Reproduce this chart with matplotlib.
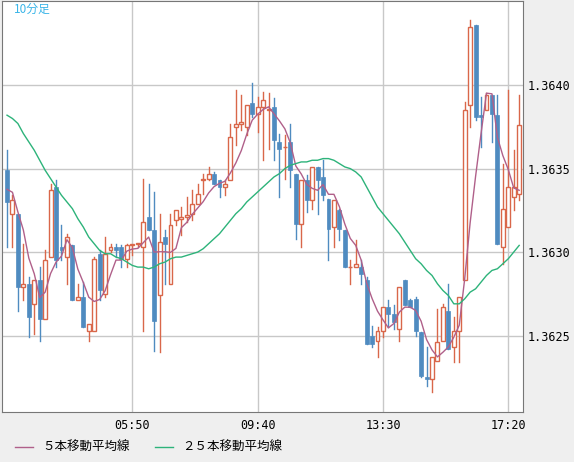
import matplotlib
matplotlib.use("Agg")
import matplotlib.pyplot as plt
from matplotlib.patches import Rectangle
import numpy as np

plt.rcParams['font.family'] = ['Noto Sans CJK JP', 'DejaVu Sans']

opens = [1.36349,1.36323,1.36323,1.36279,1.36281,1.36269,1.36283,1.36260,1.36297,1.36339,
         1.36303,1.36297,1.36304,1.36271,1.36273,1.36253,1.36253,1.36299,1.36275,1.36301,
         1.36303,1.36303,1.36296,1.36304,1.36305,1.36303,1.36321,1.36313,1.36274,1.36309,
         1.36281,1.36319,1.36320,1.36321,1.36323,1.36329,1.36343,1.36344,1.36347,1.36343,
         1.36339,1.36343,1.36375,1.36377,1.36375,1.36389,1.36383,1.36387,1.36385,1.36387,
         1.36366,1.36363,1.36366,1.36347,1.36317,1.36343,1.36331,1.36351,1.36345,1.36332,
         1.36315,1.36325,1.36313,1.36291,1.36291,1.36291,1.36283,1.36250,1.36247,1.36253,
         1.36267,1.36263,1.36254,1.36283,1.36271,1.36272,1.36252,1.36225,1.36224,1.36235,
         1.36247,1.36265,1.36243,1.36253,1.36283,1.36388,1.36436,1.36382,1.36385,1.36394,
         1.36382,1.36303,1.36315,1.36333,1.36335]
closes = [1.36330,1.36331,1.36279,1.36281,1.36261,1.36283,1.36260,1.36295,1.36337,1.36295,
          1.36301,1.36309,1.36271,1.36273,1.36255,1.36257,1.36296,1.36277,1.36299,1.36303,
          1.36301,1.36296,1.36304,1.36305,1.36305,1.36318,1.36313,1.36259,1.36306,1.36305,
          1.36316,1.36325,1.36321,1.36322,1.36329,1.36335,1.36344,1.36347,1.36341,1.36339,
          1.36341,1.36369,1.36377,1.36378,1.36388,1.36383,1.36387,1.36391,1.36386,1.36367,
          1.36362,1.36363,1.36349,1.36317,1.36343,1.36331,1.36351,1.36343,1.36334,1.36314,
          1.36331,1.36314,1.36291,1.36291,1.36293,1.36287,1.36245,1.36245,1.36253,1.36267,
          1.36263,1.36258,1.36279,1.36268,1.36267,1.36253,1.36226,1.36224,1.36237,1.36246,
          1.36267,1.36242,1.36253,1.36273,1.36385,1.36435,1.36381,1.36381,1.36394,1.36383,
          1.36305,1.36326,1.36339,1.36339,1.36376]
highs = [1.36361,1.36334,1.36323,1.36305,1.36285,1.36283,1.36291,1.36301,1.36341,1.36343,
         1.36316,1.36311,1.36304,1.36281,1.36282,1.36257,1.36297,1.36301,1.36309,1.36305,
         1.36305,1.36304,1.36305,1.36305,1.36305,1.36344,1.36341,1.36336,1.36323,1.36313,
         1.36323,1.36325,1.36327,1.36333,1.36337,1.36341,1.36347,1.36351,1.36348,1.36343,
         1.36343,1.36377,1.36397,1.36394,1.36388,1.36401,1.36393,1.36396,1.36395,1.36392,
         1.36371,1.36370,1.36377,1.36347,1.36343,1.36346,1.36351,1.36351,1.36355,1.36332,
         1.36331,1.36326,1.36313,1.36295,1.36307,1.36295,1.36285,1.36256,1.36255,1.36267,
         1.36271,1.36268,1.36279,1.36283,1.36272,1.36273,1.36252,1.36243,1.36237,1.36266,
         1.36269,1.36281,1.36261,1.36273,1.36390,1.36439,1.36436,1.36393,1.36395,1.36394,
         1.36394,1.36353,1.36397,1.36361,1.36394]
lows = [1.36303,1.36303,1.36265,1.36271,1.36249,1.36251,1.36247,1.36260,1.36297,1.36291,
        1.36295,1.36281,1.36271,1.36271,1.36255,1.36247,1.36253,1.36271,1.36273,1.36300,
        1.36297,1.36291,1.36291,1.36298,1.36303,1.36253,1.36313,1.36241,1.36240,1.36281,
        1.36281,1.36316,1.36310,1.36318,1.36319,1.36329,1.36335,1.36343,1.36341,1.36333,
        1.36334,1.36343,1.36364,1.36373,1.36370,1.36381,1.36372,1.36355,1.36362,1.36355,
        1.36333,1.36344,1.36339,1.36308,1.36303,1.36324,1.36326,1.36323,1.36331,1.36295,
        1.36303,1.36307,1.36291,1.36281,1.36291,1.36281,1.36245,1.36243,1.36237,1.36249,
        1.36255,1.36254,1.36247,1.36268,1.36267,1.36250,1.36225,1.36220,1.36216,1.36235,
        1.36247,1.36242,1.36234,1.36234,1.36283,1.36375,1.36379,1.36363,1.36385,1.36366,
        1.36305,1.36293,1.36315,1.36325,1.36331]
prior_closes = [1.36340, 1.36338, 1.36335, 1.36345]
ma25 = [1.36382,1.36380,1.36377,1.36371,1.36366,1.36361,1.36355,1.36349,1.36344,1.36339,
        1.36334,1.36330,1.36326,1.36320,1.36315,1.36309,1.36305,1.36301,1.36299,1.36299,
        1.36297,1.36296,1.36294,1.36292,1.36291,1.36291,1.36290,1.36291,1.36293,1.36294,
        1.36296,1.36297,1.36297,1.36298,1.36299,1.36300,1.36302,1.36305,1.36308,1.36311,
        1.36315,1.36319,1.36323,1.36326,1.36330,1.36333,1.36336,1.36339,1.36342,1.36345,
        1.36347,1.36350,1.36352,1.36353,1.36354,1.36354,1.36355,1.36355,1.36356,1.36356,
        1.36355,1.36353,1.36351,1.36350,1.36348,1.36345,1.36339,1.36333,1.36327,1.36323,
        1.36319,1.36315,1.36311,1.36306,1.36301,1.36296,1.36293,1.36289,1.36286,1.36281,
        1.36277,1.36274,1.36269,1.36269,1.36272,1.36276,1.36278,1.36282,1.36286,1.36289,
        1.36290,1.36293,1.36296,1.36300,1.36304]
tick_labels = ["05:50", "09:40", "13:30", "17:20"]
tick_idx = [23, 46, 69, 92]
price_ticks = [1.3625, 1.3630, 1.3635, 1.3640]

allc = np.array(prior_closes + closes)
ma5 = np.convolve(allc, np.ones(5) / 5, mode='valid')

UP = '#d9674a'
DN = '#4f8bc0'
BG = '#efefef'

fig = plt.figure(figsize=(5.74, 4.62), dpi=100, facecolor=BG)
ax = fig.add_axes([2/574, 1 - 412/462, 521/574, 411/462])
ax.set_facecolor('white')
n = len(closes)
x = np.arange(n)
w = 0.72
for i in range(n):
    o, c, h, l = opens[i], closes[i], highs[i], lows[i]
    if c >= o:
        ax.plot([i, i], [l, o], color=UP, lw=1, zorder=2)
        ax.plot([i, i], [c, h], color=UP, lw=1, zorder=2)
        ax.add_patch(Rectangle((i - w/2, o), w, max(c - o, 0.000002), facecolor='white',
                               edgecolor=UP, lw=1, zorder=3))
    else:
        ax.plot([i, i], [l, h], color=DN, lw=1, zorder=2)
        ax.add_patch(Rectangle((i - w/2, c), w, o - c, facecolor=DN, edgecolor=DN, lw=0.5, zorder=3))

ax.plot(x, ma5, color='#b0608a', lw=1, zorder=4)
ax.plot(x, ma25, color='#2db37a', lw=1, zorder=4)

ax.set_xlim(-0.92, 94.7)
ax.set_ylim(1.362042, 1.364504)
ax.set_xticks(tick_idx)
ax.set_xticklabels(tick_labels, family='DejaVu Sans Mono', fontsize=8.5)
ax.set_yticks(price_ticks)
ax.set_yticklabels([f"{p:.4f}" for p in price_ticks], family='DejaVu Sans Mono', fontsize=8.5)
ax.yaxis.tick_right()
ax.tick_params(axis='y', length=0, pad=3)
ax.tick_params(axis='x', length=0, pad=5)
ax.grid(True, color='#c8c8c8', lw=1)
ax.set_axisbelow(True)
for s in ax.spines.values():
    s.set_color('#777777')
ax.text(0.022, 0.995, '10分足', transform=ax.transAxes, color='#3ab5e8', fontsize=8.5, va='top')

fig.lines.append(plt.Line2D([15/574, 33/574], [1 - 447/462] * 2, color='#b0608a', lw=1, transform=fig.transFigure))
fig.text(42/574, 1 - 447/462, '５本移動平均線', fontsize=9, va='center')
fig.lines.append(plt.Line2D([155/574, 173/574], [1 - 447/462] * 2, color='#2db37a', lw=1, transform=fig.transFigure))
fig.text(182/574, 1 - 447/462, '２５本移動平均線', fontsize=9, va='center')

fig.savefig('out.png', dpi=100, facecolor=BG)
